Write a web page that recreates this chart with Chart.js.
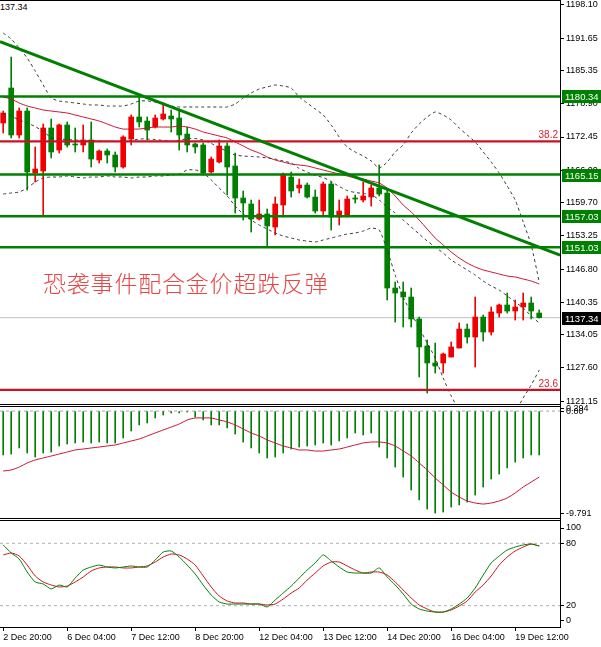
<!DOCTYPE html>
<html>
<head>
<meta charset="utf-8">
<script src="https://cdn.jsdelivr.net/npm/chart.js@4.4.1/dist/chart.umd.min.js"></script>
<style>
    html, body { margin: 0; padding: 0; background: #fff; width: 601px; height: 647px; overflow: hidden; position: relative; }
    canvas { position: absolute; left: 0; }
    #titulo { position: absolute; left: 43px; top: 271px; font: 300 23px 'Noto Sans CJK SC'; line-height: 23px; color: #e64646; letter-spacing: 0.8px; white-space: nowrap; }
    #precio { position: absolute; left: 0; top: 2px; font: 9px 'Liberation Sans'; color: #000; }
</style>
</head>
<body>
<div id="precio">137.34</div>
<canvas id="graficoPrecio" width="601" height="405" style="top:0"></canvas>
<canvas id="graficoMacd" width="601" height="116" style="top:405px"></canvas>
<canvas id="graficoEstocastico" width="601" height="128" style="top:519px"></canvas>
<div id="titulo">恐袭事件配合金价超跌反弹</div>

<script>
    // Velas H4 (apertura, máximo, mínimo, cierre)
    const apertura = [1175.17, 1181.97, 1172.84, 1177.50, 1165.46, 1165.84, 1174.20, 1169.92, 1174.78, 1171.09,
        1170.90, 1171.87, 1167.98, 1169.73, 1168.95, 1166.62, 1172.06, 1176.34, 1175.56, 1174.39,
        1175.95, 1176.53, 1176.14, 1173.03, 1171.09, 1170.90, 1165.65, 1167.59, 1170.70, 1166.82,
        1160.60, 1159.43, 1156.52, 1157.49, 1154.96, 1159.24, 1164.68, 1162.54, 1163.12, 1160.79,
        1158.07, 1163.32, 1156.91, 1157.10, 1160.60, 1160.21, 1160.79, 1162.54, 1161.57, 1143.11,
        1142.33, 1141.36, 1137.09, 1131.84, 1128.54, 1128.54, 1129.70, 1131.45, 1135.14, 1133.59,
        1137.47, 1134.56, 1138.25, 1139.81, 1138.64, 1139.42, 1140.20, 1138.25];
    const maximo = [1177.50, 1187.99, 1178.09, 1178.09, 1170.51, 1174.98, 1175.95, 1174.98, 1175.37, 1174.20,
        1174.78, 1175.37, 1169.92, 1170.12, 1169.54, 1172.70, 1176.73, 1180.22, 1176.34, 1176.73,
        1179.06, 1177.69, 1177.89, 1174.39, 1171.29, 1171.29, 1168.56, 1171.87, 1171.29, 1169.34,
        1161.96, 1160.21, 1160.21, 1158.46, 1160.79, 1165.46, 1165.65, 1164.29, 1163.51, 1162.15,
        1163.71, 1163.71, 1160.21, 1160.99, 1161.18, 1163.71, 1163.12, 1167.01, 1162.15, 1144.28,
        1144.28, 1143.11, 1137.47, 1133.01, 1132.42, 1130.48, 1132.62, 1136.31, 1136.12, 1141.36,
        1137.86, 1139.42, 1140.00, 1142.14, 1140.78, 1142.14, 1141.36, 1138.84];
    const minimo = [1173.23, 1172.26, 1172.26, 1162.15, 1163.71, 1157.10, 1168.37, 1169.34, 1170.51, 1169.54,
        1169.54, 1166.62, 1167.40, 1167.40, 1165.65, 1166.40, 1170.90, 1174.39, 1171.87, 1174.20,
        1175.75, 1173.42, 1169.92, 1169.54, 1169.34, 1165.07, 1165.46, 1167.40, 1161.18, 1157.68,
        1156.32, 1153.99, 1156.32, 1151.27, 1153.41, 1156.91, 1160.79, 1161.57, 1160.60, 1157.68,
        1157.30, 1154.38, 1155.35, 1156.91, 1159.63, 1159.82, 1159.04, 1160.99, 1140.78, 1136.50,
        1135.53, 1135.53, 1125.82, 1122.71, 1126.59, 1126.59, 1129.70, 1131.45, 1132.42, 1127.76,
        1132.81, 1133.98, 1137.47, 1138.25, 1136.89, 1136.89, 1137.09, 1137.28];
    const cierre = [1177.11, 1172.84, 1177.50, 1165.65, 1166.23, 1174.20, 1169.54, 1174.78, 1170.90, 1170.90,
        1171.87, 1168.17, 1169.73, 1168.95, 1166.62, 1172.45, 1176.34, 1175.37, 1173.81, 1176.14,
        1176.92, 1175.95, 1172.84, 1170.90, 1170.51, 1165.46, 1168.17, 1170.70, 1166.62, 1160.60,
        1159.63, 1156.52, 1157.49, 1155.16, 1159.43, 1165.26, 1161.96, 1163.12, 1160.79, 1158.07,
        1163.32, 1156.91, 1158.07, 1160.40, 1160.40, 1160.99, 1162.54, 1161.37, 1143.11, 1142.14,
        1141.36, 1137.09, 1131.65, 1128.54, 1127.95, 1130.29, 1131.65, 1135.14, 1133.59, 1137.47,
        1134.56, 1138.45, 1139.81, 1138.64, 1139.42, 1140.20, 1138.64, 1137.34];

    // Bandas de Bollinger y media
    const bandaSup = [1192.66, 1191.49, 1189.74, 1187.80, 1185.27, 1182.55, 1180.03, 1179.45, 1179.25, 1179.06,
        1178.86, 1178.67, 1178.67, 1178.47, 1178.47, 1178.47, 1178.86, 1179.45, 1179.45, 1179.25,
        1178.86, 1178.47, 1178.28, 1178.28, 1178.28, 1178.28, 1178.28, 1178.28, 1178.28, 1178.86,
        1180.03, 1181.00, 1181.78, 1182.17, 1182.55, 1182.36, 1181.97, 1180.22, 1179.06, 1177.89,
        1176.73, 1174.78, 1172.45, 1170.51, 1169.54, 1168.76, 1167.79, 1166.43, 1167.59, 1169.54,
        1170.90, 1173.23, 1174.98, 1176.34, 1177.31, 1176.73, 1175.75, 1174.20, 1172.84, 1171.48,
        1169.54, 1167.59, 1165.46, 1162.93, 1160.21, 1155.94, 1151.47, 1144.28];
    const bandaMed = [1177.00, 1176.53, 1175.75, 1175.17, 1174.49, 1173.52, 1172.35, 1172.06, 1171.96, 1171.87,
        1171.77, 1171.67, 1171.67, 1171.58, 1171.58, 1171.58, 1171.77, 1172.06, 1172.06, 1171.96,
        1171.77, 1171.58, 1171.77, 1172.16, 1172.16, 1171.87, 1171.19, 1170.41, 1169.63, 1168.95,
        1168.76, 1168.66, 1168.56, 1168.37, 1168.17, 1167.79, 1167.40, 1166.33, 1165.65, 1164.97,
        1164.58, 1163.81, 1162.84, 1162.05, 1161.67, 1161.47, 1161.28, 1160.21, 1158.85, 1157.68,
        1156.32, 1154.96, 1153.60, 1152.24, 1151.08, 1149.91, 1148.55, 1147.58, 1146.61, 1145.63,
        1144.47, 1143.50, 1142.72, 1141.56, 1140.39, 1139.23, 1137.67, 1136.31];
    const bandaInf = [1161.37, 1161.57, 1161.76, 1162.54, 1163.71, 1164.49, 1164.68, 1164.68, 1164.88, 1164.68,
        1164.49, 1164.68, 1164.68, 1164.88, 1164.68, 1164.68, 1164.49, 1164.68, 1164.68, 1164.88,
        1164.88, 1165.07, 1165.26, 1166.04, 1166.04, 1165.46, 1164.10, 1162.54, 1160.99, 1159.04,
        1157.49, 1156.32, 1155.35, 1154.57, 1153.80, 1153.21, 1152.83, 1152.44, 1152.24, 1152.05,
        1152.44, 1152.83, 1153.21, 1153.60, 1153.80, 1154.18, 1154.77, 1154.38, 1150.50, 1145.63,
        1141.36, 1138.25, 1135.34, 1132.42, 1129.51, 1125.62, 1122.13, 1119.41, 1117.46, 1115.91,
        1115.13, 1114.94, 1115.52, 1116.88, 1119.02, 1121.74, 1124.26, 1127.18];
    const mediaRoja = [1180.22, 1179.83, 1179.06, 1178.47, 1178.09, 1177.70, 1177.50, 1177.31, 1177.11, 1176.73,
        1176.34, 1175.95, 1175.56, 1174.98, 1174.39, 1174.00, 1174.00, 1174.00, 1174.20, 1174.39,
        1174.39, 1174.39, 1174.59, 1174.39, 1174.00, 1173.42, 1173.03, 1172.64, 1172.26, 1171.48,
        1170.70, 1169.92, 1169.34, 1168.56, 1167.98, 1167.59, 1167.20, 1167.01, 1166.82, 1166.43,
        1166.04, 1165.65, 1165.26, 1164.87, 1164.49, 1164.29, 1163.90, 1163.51, 1162.54, 1160.99,
        1159.24, 1157.88, 1156.32, 1154.57, 1152.83, 1151.47, 1150.11, 1148.94, 1147.97, 1147.19,
        1146.61, 1146.22, 1145.83, 1145.44, 1145.25, 1144.86, 1144.47, 1143.89];

    // MACD
    const macdHist = [-4.21, -4.12, -3.54, -4.02, -4.41, -4.02, -3.93, -3.35, -3.16, -3.06,
        -2.97, -3.06, -2.97, -3.06, -3.06, -2.58, -1.91, -1.33, -1.14, -0.66,
        -0.37, -0.18, -0.18, -0.09, -0.57, -0.85, -1.33, -1.33, -1.62, -2.20,
        -2.97, -3.54, -4.02, -4.50, -4.41, -4.02, -3.64, -3.45, -3.35, -3.25,
        -3.06, -3.25, -2.87, -2.58, -2.10, -2.29, -2.10, -3.45, -4.50, -5.37,
        -6.33, -7.57, -8.53, -9.40, -9.79, -9.69, -9.21, -9.01, -8.73, -8.06,
        -7.29, -6.52, -6.04, -5.46, -4.89, -4.50, -4.21, -4.21];
    const macdSenal = [-5.75, -5.65, -5.37, -4.98, -4.69, -4.50, -4.31, -4.12, -3.93, -3.73,
        -3.64, -3.54, -3.45, -3.35, -3.25, -3.06, -2.87, -2.68, -2.39, -2.10,
        -1.81, -1.53, -1.24, -0.85, -0.66, -0.66, -0.66, -0.85, -1.04, -1.33,
        -1.72, -2.10, -2.39, -2.77, -3.06, -3.35, -3.54, -3.73, -3.73, -3.83,
        -3.83, -3.73, -3.64, -3.45, -3.25, -3.06, -2.97, -2.97, -3.06, -3.35,
        -3.83, -4.31, -4.98, -5.65, -6.42, -7.09, -7.77, -8.25, -8.63, -8.82,
        -8.92, -8.82, -8.63, -8.34, -7.86, -7.29, -6.81, -6.33];

    // Estocástico
    const estocK = [78.4, 70.7, 64.9, 52.4, 42.8, 40.9, 36.1, 39.9, 38.0, 46.6,
        54.3, 57.2, 59.1, 57.2, 56.3, 57.2, 58.2, 57.2, 57.2, 63.9,
        71.6, 72.6, 66.8, 59.1, 50.5, 39.9, 30.3, 23.6, 21.6, 21.6,
        21.6, 21.6, 21.6, 18.8, 25.5, 32.2, 38.9, 46.6, 54.3, 61.1,
        68.8, 63.0, 57.2, 52.4, 51.4, 51.4, 51.4, 56.3, 47.6, 39.9,
        31.3, 21.6, 16.8, 14.9, 13.9, 13.9, 16.8, 21.6, 27.4, 37.0,
        49.5, 61.1, 67.8, 73.6, 76.4, 78.4, 79.3, 77.4];
    const estocD = [68.8, 70.7, 67.8, 59.1, 48.6, 42.8, 39.9, 38.0, 38.9, 42.8,
        47.6, 53.4, 56.3, 57.2, 57.2, 56.3, 56.3, 57.2, 58.2, 62.0,
        66.8, 69.7, 68.8, 64.9, 59.1, 48.6, 38.0, 29.3, 24.5, 22.6,
        22.6, 21.6, 21.6, 20.7, 21.6, 26.4, 32.2, 37.0, 44.7, 51.4,
        58.2, 62.0, 62.0, 58.2, 54.3, 51.4, 52.4, 52.4, 49.5, 42.8,
        35.1, 27.4, 20.7, 16.8, 13.9, 13.9, 15.9, 19.7, 24.5, 33.2,
        39.9, 48.6, 59.1, 66.8, 72.6, 76.4, 79.3, 77.4];

    // Niveles y líneas dibujadas
    const nivelesVerdes = [1180.34, 1165.15, 1157.03, 1151.03];
    const nivelesFibo = [1171.60, 1123.30];
    const etiquetasFibo = ['38.2', '23.6'];
    const precioActual = 1137.34;
    const tendencia = [1191.0, 1149.5];
    const nivelesEstoc = [80, 20];

    // Ejes
    const rangoX = [-0.4, 69.6];
    const ticksPrecio = [1198.10, 1191.65, 1185.35, 1178.90, 1172.45, 1166.00, 1159.70, 1153.25, 1146.80, 1140.35, 1134.05, 1127.60, 1121.15];
    const ticksMacd = [0.294, 0, -9.791];
    const textoMacd = ['0.294', '0.00', '-9.791'];
    const ticksEstoc = [94.7, 80, 20, 5.3];
    const textoEstoc = ['100', '80', '20', '0'];
    const posFechas = [0, 8, 16, 24, 32, 40, 48, 56, 64];
    const etiquetasFecha = ['2 Dec 20:00', '6 Dec 04:00', '7 Dec 12:00', '8 Dec 20:00', '12 Dec 04:00',
        '13 Dec 12:00', '14 Dec 20:00', '16 Dec 04:00', '19 Dec 12:00'];

    const ROJO = '#f00000';
    const VERDE = '#008000';
    const fuente = { family: 'Liberation Sans', size: 9 };

    const serie = arr => arr.map((v, i) => ({ x: i, y: v }));
    const horizontal = (v, color, ancho, dash, orden) => ({
        type: 'line',
        data: [{ x: rangoX[0], y: v }, { x: rangoX[1], y: v }],
        borderColor: color, borderWidth: ancho, borderDash: dash || [],
        pointRadius: 0, order: orden || 1
    });
    const linea = (arr, color, dash, orden) => ({
        type: 'line', data: serie(arr), borderColor: color, borderWidth: 1,
        borderDash: dash || [], pointRadius: 0, tension: 0.2, order: orden || 5
    });

    const ejeDerecho = (min, max, valores, texto) => ({
        position: 'right', min, max,
        border: { display: true, color: '#000' },
        grid: { drawOnChartArea: false, drawTicks: true, tickLength: 4, color: '#000' },
        ticks: { autoSkip: false, color: '#000', font: fuente, padding: 2, callback: (v, i) => texto[i] },
        afterBuildTicks: s => { s.ticks = valores.map(v => ({ value: v })); },
        afterFit: s => { s.width = 41; s.paddingTop = 0; s.paddingBottom = 0; }
    });
    const ejeXOculto = { type: 'linear', min: rangoX[0], max: rangoX[1], offset: false, display: false };

    // Bordes de los paneles
    const marco = {
        id: 'marco',
        afterDraw(chart, args, opts) {
            const { ctx, chartArea } = chart;
            ctx.save();
            ctx.strokeStyle = '#000';
            ctx.lineWidth = 1;
            (opts.lineas || []).forEach(y => {
                ctx.beginPath();
                ctx.moveTo(0, y);
                ctx.lineTo(chartArea.right, y);
                ctx.stroke();
            });
            ctx.restore();
        }
    };

    // Etiquetas de niveles en el eje de precios
    const etiquetasNiveles = {
        id: 'etiquetasNiveles',
        afterDraw(chart) {
            const { ctx } = chart;
            const y = chart.scales.y;
            ctx.save();
            ctx.font = '9.5px "Liberation Sans"';
            ctx.textBaseline = 'middle';
            nivelesVerdes.forEach(v => {
                const py = Math.round(y.getPixelForValue(v));
                ctx.fillStyle = VERDE;
                ctx.fillRect(562, py - 6, 39, 13);
                ctx.fillStyle = '#fff';
                ctx.fillText(v.toFixed(2), 565, py + 1);
            });
            const pa = Math.round(y.getPixelForValue(precioActual));
            ctx.fillStyle = '#000';
            ctx.fillRect(562, pa - 6, 39, 13);
            ctx.fillStyle = '#fff';
            ctx.fillText(precioActual.toFixed(2), 565, pa + 1);

            ctx.font = '10px "Liberation Sans"';
            ctx.fillStyle = '#d42030';
            ctx.textAlign = 'right';
            ctx.textBaseline = 'bottom';
            nivelesFibo.forEach((v, i) => ctx.fillText(etiquetasFibo[i], 558, y.getPixelForValue(v) - 1));
            ctx.restore();
        }
    };

    const colorVela = apertura.map((o, i) => cierre[i] >= o ? ROJO : VERDE);

    window.addEventListener('DOMContentLoaded', () => {
        Chart.defaults.font.family = 'Liberation Sans';

        // Precio
        new Chart(document.getElementById('graficoPrecio'), {
            type: 'bar',
            data: {
                datasets: [
                    {
                        data: minimo.map((v, i) => ({ x: i, y: [v, maximo[i]] })),
                        backgroundColor: colorVela, barThickness: 1, grouped: false, order: 11
                    },
                    {
                        data: apertura.map((v, i) => ({ x: i, y: [v, cierre[i]] })),
                        backgroundColor: colorVela, barThickness: 5, minBarLength: 1, grouped: false, order: 10
                    },
                    horizontal(precioActual, '#c0c0c0', 1, null, 12),
                    linea(bandaSup, '#3a3a3a', [3, 3]),
                    linea(bandaMed, '#3a3a3a', [3, 3]),
                    linea(bandaInf, '#3a3a3a', [3, 3]),
                    linea(mediaRoja, '#c8102e'),
                    ...nivelesFibo.map(v => horizontal(v, '#cc1122', 2.2)),
                    ...nivelesVerdes.map(v => horizontal(v, VERDE, 2.5)),
                    {
                        type: 'line',
                        data: [{ x: rangoX[0], y: tendencia[0] }, { x: rangoX[1], y: tendencia[1] }],
                        borderColor: VERDE, borderWidth: 3, pointRadius: 0, order: 0
                    }
                ]
            },
            options: {
                responsive: false,
                animation: false,
                layout: { padding: 0 },
                plugins: { legend: { display: false }, tooltip: { enabled: false }, marco: { lineas: [0.5, 404.5] } },
                scales: {
                    x: ejeXOculto,
                    y: ejeDerecho(1120.38, 1199.07, ticksPrecio, ticksPrecio.map(v => v.toFixed(2)))
                }
            },
            plugins: [marco, etiquetasNiveles]
        });

        // MACD
        new Chart(document.getElementById('graficoMacd'), {
            type: 'bar',
            data: {
                datasets: [
                    { data: serie(macdHist), backgroundColor: VERDE, barThickness: 1, grouped: false, order: 6 },
                    horizontal(0, '#a8a8a8', 1, [3, 3], 7),
                    linea(macdSenal, '#c8102e', null, 2)
                ]
            },
            options: {
                responsive: false,
                animation: false,
                layout: { padding: 0 },
                plugins: { legend: { display: false }, tooltip: { enabled: false }, marco: { lineas: [1.5, 113.5] } },
                scales: {
                    x: ejeXOculto,
                    y: ejeDerecho(-10.55, 0.586, ticksMacd, textoMacd)
                }
            },
            plugins: [marco]
        });

        // Estocástico
        new Chart(document.getElementById('graficoEstocastico'), {
            type: 'line',
            data: {
                datasets: [
                    ...nivelesEstoc.map(v => horizontal(v, '#b0b0b0', 1, [3, 3], 7)),
                    linea(estocD, '#d01020', null, 3),
                    linea(estocK, VERDE, null, 2)
                ]
            },
            options: {
                responsive: false,
                animation: false,
                layout: { padding: { top: 1 } },
                plugins: { legend: { display: false }, tooltip: { enabled: false }, marco: { lineas: [1.5] } },
                scales: {
                    x: {
                        type: 'linear', min: rangoX[0], max: rangoX[1], offset: false,
                        border: { display: true, color: '#000' },
                        grid: { offset: false, drawOnChartArea: false, tickLength: 4, color: '#000' },
                        ticks: {
                            autoSkip: false, minRotation: 0, maxRotation: 0, align: 'start', padding: 1,
                            color: '#000', font: fuente, callback: (v, i) => etiquetasFecha[i]
                        },
                        afterBuildTicks: s => { s.ticks = posFechas.map(v => ({ value: v })); },
                        afterFit: s => { s.height = 20; s.paddingLeft = 0; s.paddingRight = 0; }
                    },
                    y: ejeDerecho(-0.48, 102.4, ticksEstoc, textoEstoc)
                }
            },
            plugins: [marco]
        });
    });
</script>
</body>
</html>
